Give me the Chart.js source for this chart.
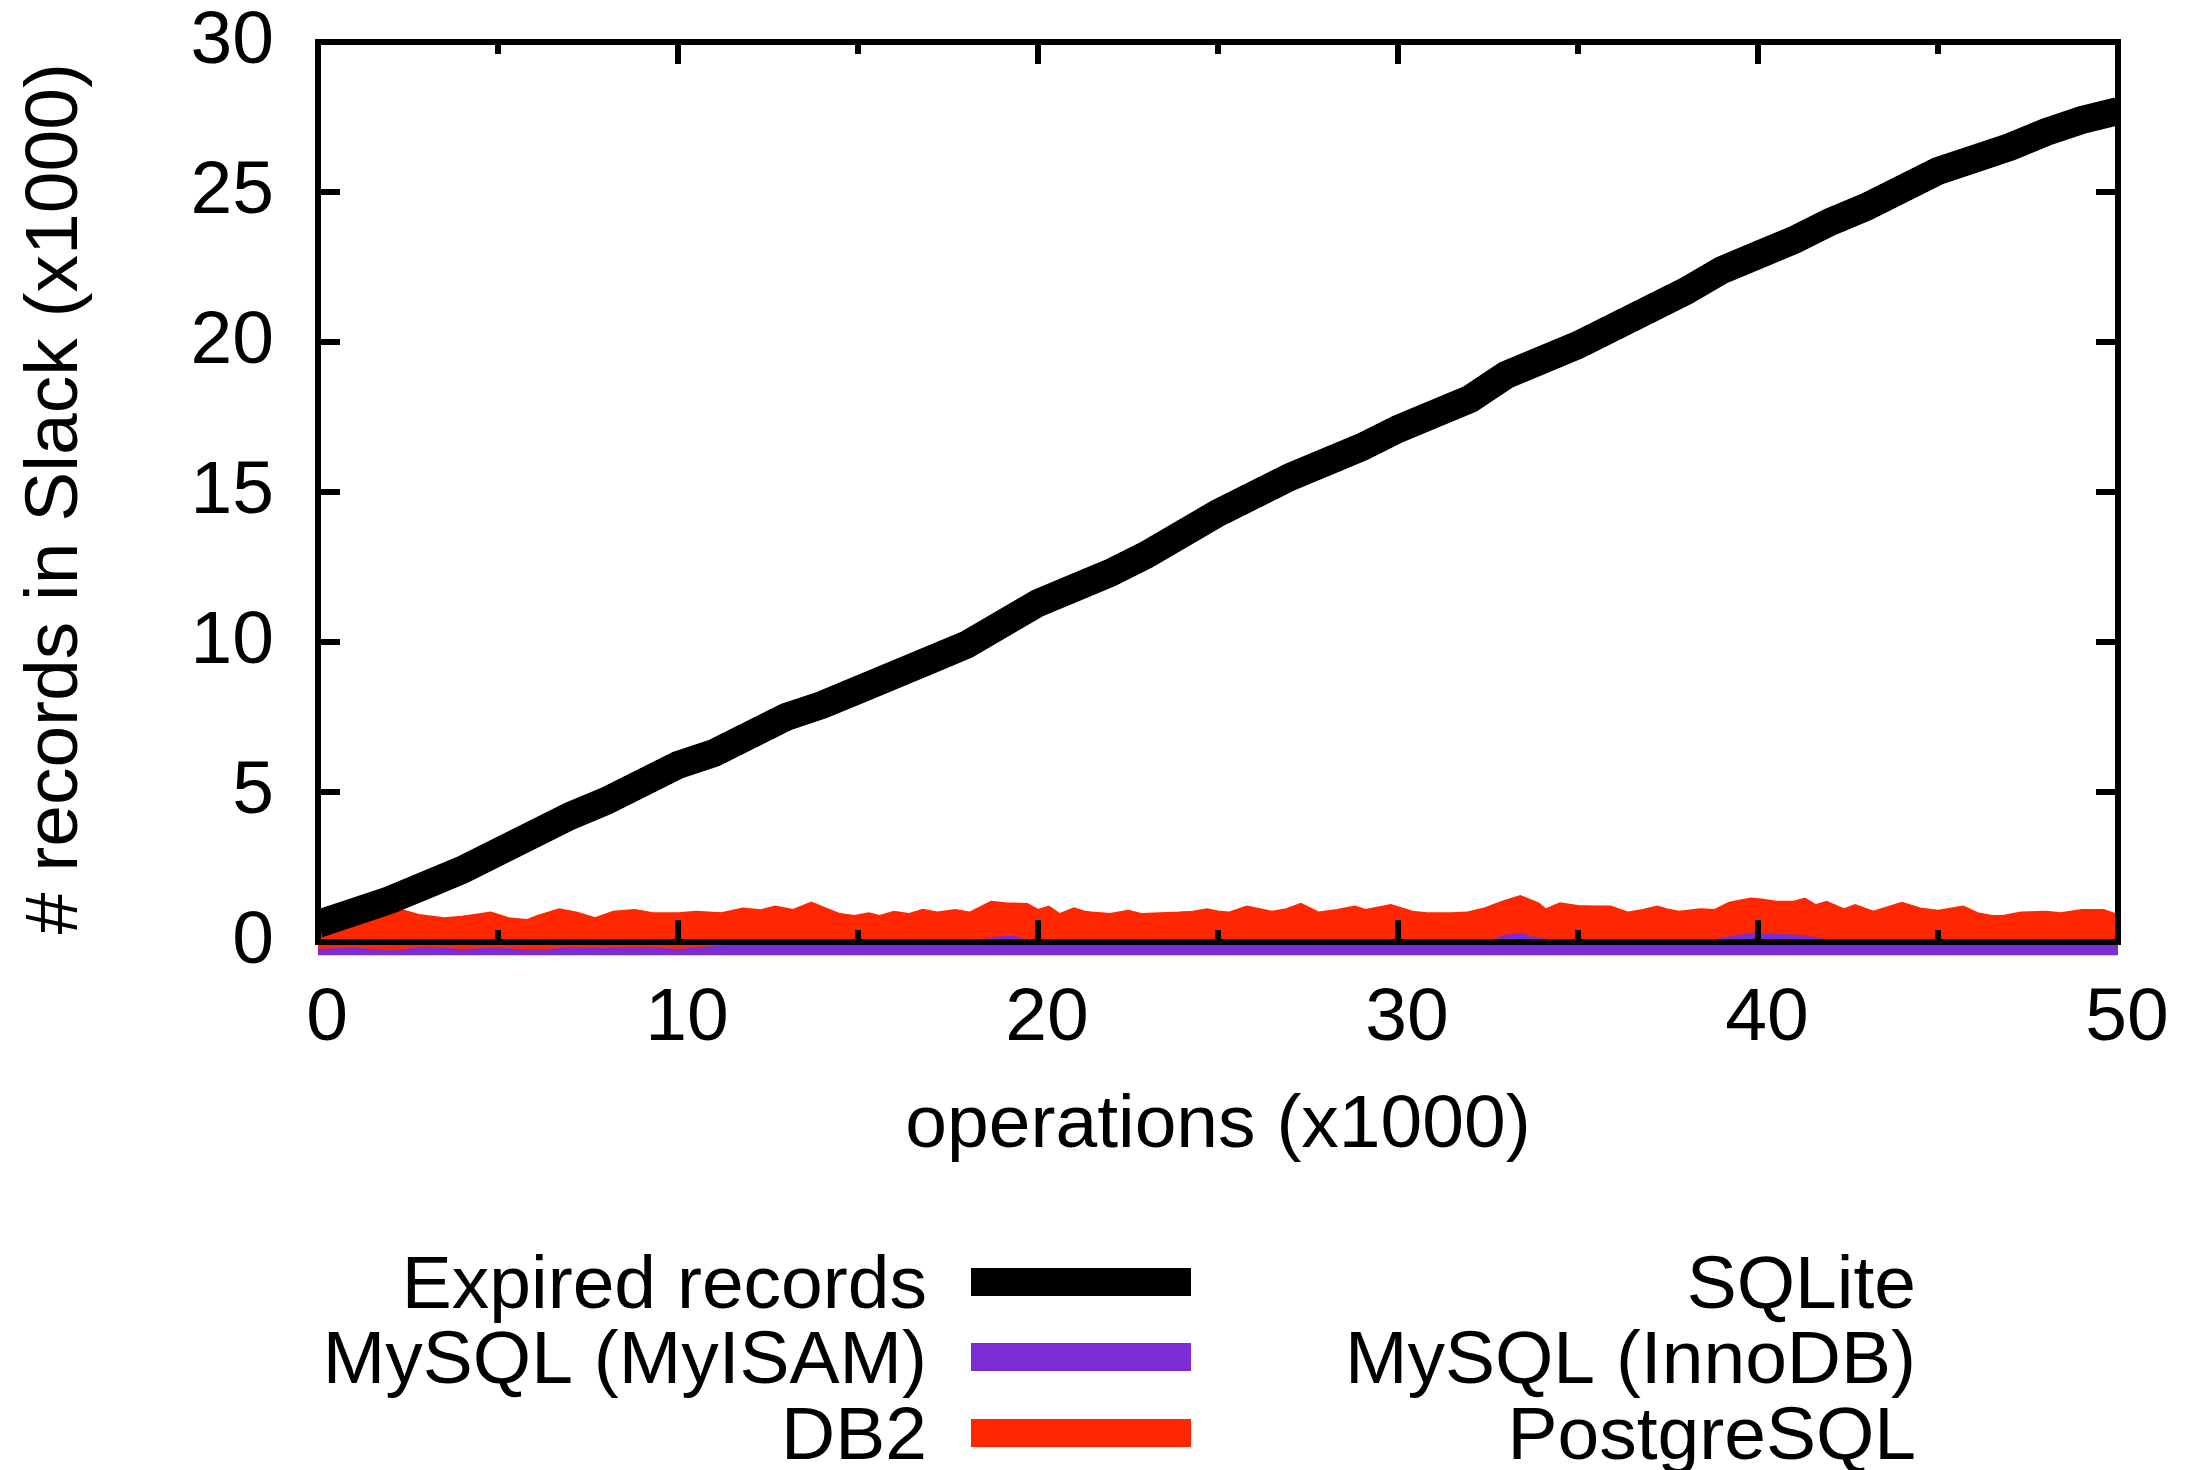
<!DOCTYPE html>
<html>
<head>
<meta charset="utf-8">
<script src="https://cdn.jsdelivr.net/npm/chart.js@4.4.1/dist/chart.umd.min.js"></script>
<style>
  html, body { margin: 0; padding: 0; background: #fff; }
  canvas { display: block; }
</style>
</head>
<body>
<canvas id="slackChart" width="2190" height="1470"></canvas>
<script>
// tick labels
const xTickValues = [0, 10, 20, 30, 40, 50];
const xMinorTicks = [5, 15, 25, 35, 45];
const yTickValues = [0, 5, 10, 15, 20, 25, 30];

// Expired records (black)
const expiredOps = [0,1,2,3,4,5,6,7,8,9,10,11,12,13,14,15,16,17,18,19,20,21,22,23,24,25,26,27,28,29,30,31,32,33,34,35,36,37,38,39,40,41,42,43,44,45,46,47,48,49,50];
const expiredSlack = [0.6,1.0,1.4,1.9,2.4,3.0,3.6,4.2,4.7,5.3,5.9,6.3,6.9,7.5,7.9,8.4,8.9,9.4,9.9,10.6,11.3,11.8,12.3,12.9,13.6,14.3,14.9,15.5,16.0,16.5,17.1,17.6,18.1,18.9,19.4,19.9,20.5,21.1,21.7,22.4,22.9,23.4,24.0,24.5,25.1,25.7,26.1,26.5,27.0,27.4,27.7];

// MySQL (MyISAM) (purple)
const myisamOps = [0,1,2,3,4,5,6,7,8,9,10,11,12,13,14,15,16,17,18,18.8,19.3,19.7,20.5,21.5,22.5,23.5,24.5,25.5,26.5,27.5,28.5,29.5,30.5,31.5,32.5,32.9,33.4,33.8,34.5,35.5,36.5,37.5,38.5,39.3,39.9,40.6,41.2,41.8,42.5,43.5,44.5,45.5,46.5,47.5,48.5,49.5,50];
const myisamSlack = [-0.25,-0.2,-0.3,-0.18,-0.25,-0.2,-0.28,-0.2,-0.22,-0.18,-0.25,-0.15,-0.1,-0.05,-0.08,-0.05,-0.1,-0.05,-0.06,0.15,0.2,0.05,-0.05,-0.1,-0.05,-0.08,-0.05,-0.1,-0.05,-0.04,-0.06,-0.05,-0.1,-0.06,0.0,0.2,0.3,0.15,0.0,0.02,0.0,-0.02,0.0,0.2,0.3,0.25,0.22,0.1,0.0,-0.05,-0.1,-0.05,-0.12,-0.1,-0.12,-0.08,-0.1];

// DB2 (red)
const db2Ops = [0,0.15,0.5,1.2,2.0,2.3,2.8,3.5,4.0,4.8,5.3,5.8,6.1,6.7,7.2,7.7,8.2,8.8,9.3,10.0,10.5,11.2,11.8,12.3,12.7,13.2,13.7,14.1,14.5,14.9,15.3,15.6,16.0,16.4,16.8,17.2,17.7,18.1,18.7,19.1,19.7,20.0,20.3,20.6,21.0,21.3,21.5,22.0,22.5,22.9,23.4,23.9,24.3,24.7,25.0,25.3,25.8,26.5,26.9,27.3,27.8,28.3,28.8,29.1,29.8,30.4,30.8,31.5,31.9,32.4,32.9,33.4,33.9,34.1,34.5,35.0,35.5,35.9,36.4,36.8,37.2,37.5,37.8,38.4,38.8,39.2,39.8,40.1,40.5,41.0,41.3,41.6,41.9,42.4,42.7,43.2,44.0,44.5,45.0,45.7,46.1,46.5,46.8,47.3,48.0,48.4,49.0,49.6,50.0];
const db2Slack = [0.45,0.6,0.96,0.9,0.96,1.07,0.9,0.79,0.84,0.98,0.79,0.73,0.87,1.09,0.98,0.79,1.01,1.07,0.96,0.96,1.01,0.96,1.12,1.06,1.18,1.07,1.31,1.12,0.93,0.87,0.96,0.87,1.01,0.93,1.07,0.98,1.07,0.98,1.34,1.29,1.27,1.07,1.18,0.93,1.12,1.01,0.98,0.93,1.04,0.93,0.96,0.98,1.01,1.09,1.02,0.98,1.18,1.01,1.09,1.27,0.98,1.07,1.18,1.07,1.23,1.01,0.96,0.96,0.98,1.12,1.34,1.53,1.29,1.09,1.29,1.2,1.18,1.18,0.98,1.07,1.18,1.08,1.01,1.09,1.07,1.31,1.45,1.42,1.34,1.34,1.45,1.23,1.34,1.09,1.23,1.01,1.31,1.12,1.04,1.18,0.96,0.87,0.87,0.98,1.01,0.96,1.07,1.07,0.9];

// SQLite, MySQL (InnoDB), PostgreSQL are drawn in white and hidden behind the others
const sqliteOps = [0, 25, 50];
const sqliteSlack = [0.1, 0.1, 0.1];
const innodbOps = [0, 25, 50];
const innodbSlack = [0.1, 0.1, 0.1];
const postgresOps = [0, 25, 50];
const postgresSlack = [0.1, 0.1, 0.1];

const pts = (xs, ys) => xs.map((x, i) => ({x: x, y: ys[i]}));

const FONT = '"Liberation Sans", Arial, Helvetica, sans-serif';
Chart.defaults.font.family = FONT;
Chart.defaults.color = '#000';

// frame with inside ticks, drawn over the data like gnuplot does
const framePlugin = {
  id: 'frame',
  afterDatasetsDraw(chart) {
    const {ctx, scales: {x, y}} = chart;
    const l = x.getPixelForValue(0), r = x.getPixelForValue(50);
    const t = y.getPixelForValue(30), b = y.getPixelForValue(0);
    ctx.save();
    ctx.strokeStyle = '#000';
    ctx.lineWidth = 6;
    ctx.beginPath();
    yTickValues.forEach(v => {
      const py = y.getPixelForValue(v);
      ctx.moveTo(l, py); ctx.lineTo(l + 22, py);
      ctx.moveTo(r, py); ctx.lineTo(r - 22, py);
    });
    xTickValues.forEach(v => {
      const px = x.getPixelForValue(v);
      ctx.moveTo(px, b); ctx.lineTo(px, b - 22);
      ctx.moveTo(px, t); ctx.lineTo(px, t + 22);
    });
    xMinorTicks.forEach(v => {
      const px = x.getPixelForValue(v);
      ctx.moveTo(px, b); ctx.lineTo(px, b - 12);
      ctx.moveTo(px, t); ctx.lineTo(px, t + 12);
    });
    ctx.stroke();
    ctx.strokeRect(l, t, r - l, b - t);
    ctx.restore();
  }
};

// two-column legend: text right aligned, sample line to its right
const legendPlugin = {
  id: 'sideLegend',
  afterDraw(chart) {
    const ctx = chart.ctx;
    const cols = [{textRight: 927, lineX: 971}, {textRight: 1916, lineX: 1963}];
    const rows = [1282, 1357, 1433];
    ctx.save();
    ctx.font = '75px ' + FONT;
    ctx.textAlign = 'right';
    ctx.textBaseline = 'alphabetic';
    chart.data.datasets.forEach((ds, i) => {
      const c = cols[Math.floor(i / 3)], cy = rows[i % 3];
      ctx.fillStyle = '#000';
      ctx.fillText(ds.label, c.textRight, cy + 26);
      ctx.strokeStyle = ds.borderColor;
      ctx.lineWidth = 28;
      ctx.beginPath();
      ctx.moveTo(c.lineX, cy); ctx.lineTo(c.lineX + 220, cy);
      ctx.stroke();
    });
    ctx.restore();
  }
};

new Chart(document.getElementById('slackChart'), {
  type: 'line',
  data: {
    datasets: [
      {label: 'Expired records', data: pts(expiredOps, expiredSlack), borderColor: '#000000', borderWidth: 28, fill: false},
      {label: 'MySQL (MyISAM)', data: pts(myisamOps, myisamSlack), borderColor: '#7b2cd4', backgroundColor: '#7b2cd4', borderWidth: 1, fill: 'start'},
      {label: 'DB2', data: pts(db2Ops, db2Slack), borderColor: '#ff2600', backgroundColor: '#ff2600', borderWidth: 2, fill: 'start'},
      {label: 'SQLite', data: pts(sqliteOps, sqliteSlack), borderColor: '#ffffff', borderWidth: 2, fill: false},
      {label: 'MySQL (InnoDB)', data: pts(innodbOps, innodbSlack), borderColor: '#ffffff', borderWidth: 2, fill: false},
      {label: 'PostgreSQL', data: pts(postgresOps, postgresSlack), borderColor: '#ffffff', borderWidth: 2, fill: false}
    ]
  },
  options: {
    responsive: false,
    animation: false,
    devicePixelRatio: 1,
    elements: {point: {radius: 0}, line: {tension: 0}},
    layout: {padding: {left: 0, right: 72, top: 42, bottom: 294.5}},
    plugins: {legend: {display: false}, tooltip: {enabled: false}},
    scales: {
      x: {
        type: 'linear', min: 0, max: 50,
        grid: {display: false, drawTicks: true, tickLength: 26},
        border: {display: false},
        afterBuildTicks: s => { s.ticks = xTickValues.map(v => ({value: v})); },
        afterFit: s => { s.height = 220; },
        ticks: {font: {size: 75, lineHeight: 1}, padding: 0, labelOffset: 9, maxRotation: 0, autoSkip: false, color: '#000'},
        title: {display: true, text: 'operations (x1000)', font: {size: 75}, color: '#000', padding: {top: 0, bottom: 4}}
      },
      y: {
        type: 'linear', min: -0.45, max: 30,
        grid: {display: false, drawTicks: true, tickLength: 44},
        border: {display: false},
        afterBuildTicks: s => { s.ticks = yTickValues.map(v => ({value: v})); },
        afterFit: s => { s.width = 318; },
        ticks: {font: {size: 75, lineHeight: 1}, padding: 0, color: '#000'},
        title: {display: true, text: '# records in Slack (x1000)', font: {size: 75}, color: '#000', padding: {top: 11, bottom: 0}}
      }
    }
  },
  plugins: [framePlugin, legendPlugin]
});
</script>
</body>
</html>
